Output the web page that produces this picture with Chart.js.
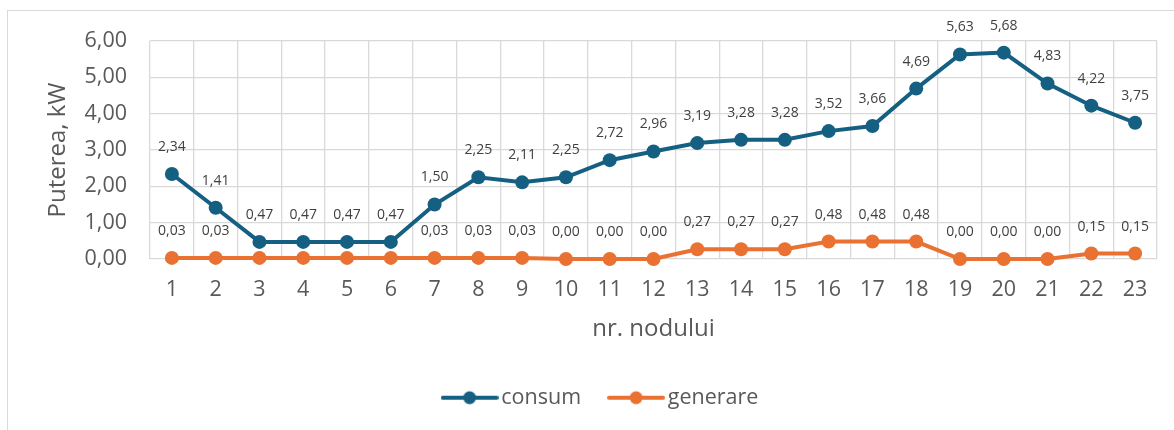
<!DOCTYPE html>
<html>
<head>
<meta charset="utf-8">
<script src="https://cdn.jsdelivr.net/npm/chart.js@4.4.0/dist/chart.umd.min.js"></script>
<style>
    html, body { margin: 0; padding: 0; background: #fff; overflow: hidden; }
    #wrap { position: relative; width: 1174px; height: 430px; }
    #frame { position: absolute; left: 7px; top: 10px; width: 1200px; height: 500px; border: 1px solid #d9d9d9; }
    #cv { position: absolute; left: 0; top: 0; }
</style>
</head>
<body>
<div id="wrap">
    <div id="frame"></div>
    <canvas id="cv" width="1174" height="430"></canvas>
</div>
<script>
var nodes = ['1','2','3','4','5','6','7','8','9','10','11','12','13','14','15','16','17','18','19','20','21','22','23'];
var consum = [2.34, 1.41, 0.47, 0.47, 0.47, 0.47, 1.50, 2.25, 2.11, 2.25, 2.72, 2.96, 3.19, 3.28, 3.28, 3.52, 3.66, 4.69, 5.63, 5.68, 4.83, 4.22, 3.75];
var generare = [0.03, 0.03, 0.03, 0.03, 0.03, 0.03, 0.03, 0.03, 0.03, 0.00, 0.00, 0.00, 0.27, 0.27, 0.27, 0.48, 0.48, 0.48, 0.00, 0.00, 0.00, 0.15, 0.15];
var yTicks = [0, 1, 2, 3, 4, 5, 6];

var blue = '#156082';
var orange = '#E97132';
var FONT = "'Open Sans', sans-serif";

function fmt(v) {
    return v.toFixed(2).replace('.', ',');
}

// small line + dot picture for the legend entries
function legendIcon(color) {
    var c = document.createElement('canvas');
    c.width = 58;
    c.height = 16;
    var g = c.getContext('2d');
    g.strokeStyle = color;
    g.lineWidth = 4;
    g.lineCap = 'round';
    g.beginPath();
    g.moveTo(2, 8);
    g.lineTo(56, 8);
    g.stroke();
    g.fillStyle = color;
    g.beginPath();
    g.arc(29, 8, 6.5, 0, Math.PI * 2);
    g.fill();
    return c;
}

// value labels above every point
var valueLabels = {
    id: 'valueLabels',
    afterDatasetsDraw: function (chart) {
        var ctx = chart.ctx;
        ctx.save();
        ctx.font = '14px ' + FONT;
        ctx.fillStyle = '#404040';
        ctx.textAlign = 'center';
        ctx.textBaseline = 'middle';
        chart.data.datasets.forEach(function (ds, di) {
            var meta = chart.getDatasetMeta(di);
            meta.data.forEach(function (pt, i) {
                var v = ds.data[i];
                // label of generare would sit on the consum marker there
                if (di == 1 && Math.abs(consum[i] - v) < 0.6) { return; }
                ctx.fillText(fmt(v), pt.x, pt.y - 27);
            });
        });
        ctx.restore();
    }
};

var ctx = document.getElementById('cv');
var myChart = new Chart(ctx, {
    type: 'line',
    data: {
        labels: nodes,
        datasets: [{
            label: 'consum',
            data: consum,
            borderColor: blue,
            backgroundColor: blue,
            borderWidth: 4,
            pointRadius: 7,
            pointHoverRadius: 7,
            pointBorderWidth: 0,
            pointStyle: 'circle',
            tension: 0,
            fill: false,
            clip: false
        }, {
            label: 'generare',
            data: generare,
            borderColor: orange,
            backgroundColor: orange,
            borderWidth: 4,
            pointRadius: 7,
            pointHoverRadius: 7,
            pointBorderWidth: 0,
            pointStyle: 'circle',
            tension: 0,
            fill: false,
            clip: false
        }]
    },
    options: {
        responsive: false,
        animation: false,
        maintainAspectRatio: false,
        layout: {
            padding: { left: 50, right: 17, top: 41, bottom: 11.5 }
        },
        plugins: {
            tooltip: { enabled: false },
            legend: {
                position: 'bottom',
                labels: {
                    usePointStyle: true,
                    pointStyleWidth: 42,
                    padding: 34,
                    color: '#595959',
                    font: { family: FONT, size: 21.5 },
                    generateLabels: function (chart) {
                        return chart.data.datasets.map(function (ds, i) {
                            return {
                                text: ds.label,
                                fillStyle: ds.borderColor,
                                strokeStyle: ds.borderColor,
                                pointStyle: legendIcon(ds.borderColor),
                                fontColor: '#595959',
                                datasetIndex: i,
                                hidden: false
                            };
                        });
                    }
                }
            }
        },
        scales: {
            x: {
                offset: true,
                grid: { offset: true, color: '#d9d9d9', lineWidth: 1.3, drawTicks: false },
                border: { display: false },
                ticks: {
                    padding: 18,
                    color: '#595959',
                    font: { family: FONT, size: 21.5 }
                },
                title: {
                    display: true,
                    text: 'nr. nodului',
                    color: '#595959',
                    font: { family: FONT, size: 24 },
                    padding: { top: 0, bottom: 9.6 }
                },
                afterFit: function (scale) { scale.height = 94; }
            },
            y: {
                min: 0,
                max: 6,
                afterBuildTicks: function (scale) {
                    scale.ticks = yTicks.map(function (v) { return { value: v }; });
                },
                grid: { color: '#d9d9d9', lineWidth: 1.3, drawTicks: false },
                border: { display: false },
                ticks: {
                    padding: 23,
                    color: '#595959',
                    font: { family: FONT, size: 21.5 },
                    callback: function (v) { return fmt(v); }
                },
                title: {
                    display: true,
                    text: 'Puterea, kW',
                    color: '#595959',
                    font: { family: FONT, size: 24 },
                    padding: { top: -6.4, bottom: 0 }
                },
                afterFit: function (scale) { scale.width = 100; }
            }
        }
    },
    plugins: [valueLabels]
});
</script>
</body>
</html>
